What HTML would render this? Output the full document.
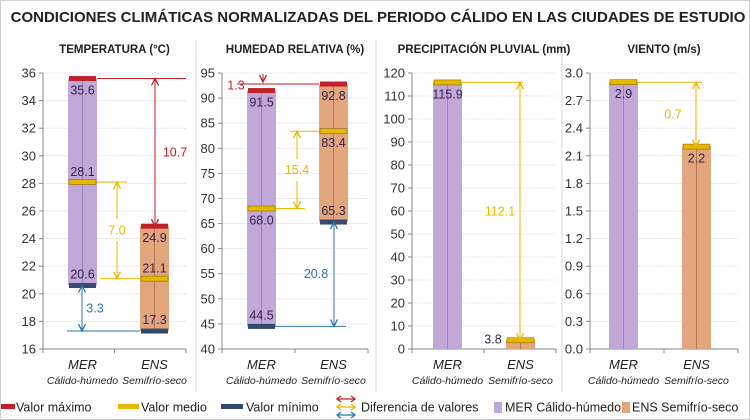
<!DOCTYPE html>
<html><head><meta charset="utf-8">
<style>
html,body{margin:0;padding:0;background:#fff;}
svg{display:block;font-family:"Liberation Sans",sans-serif;}
</style></head>
<body>
<svg id="chart" width="750" height="420" viewBox="0 0 750 420" xmlns="http://www.w3.org/2000/svg">
<rect x="0.5" y="0.5" width="749" height="419" fill="#fff" stroke="#cfcfcf"/>
<text x="378" y="22" text-anchor="middle" font-size="15" font-weight="bold" fill="#222">CONDICIONES CLIMÁTICAS NORMALIZADAS DEL PERIODO CÁLIDO EN LAS CIUDADES DE ESTUDIO</text>
<g id="panels"></g>
<g id="legend"></g>
</svg>
<script>
// ---- data ----
const panelTitles = ["TEMPERATURA (°C)", "HUMEDAD RELATIVA  (%)", "PRECIPITACIÓN PLUVIAL   (mm)", "VIENTO (m/s)"];
const categories = ["MER", "ENS"];
const categorySubs = ["Cálido-húmedo", "Semifrío-seco"];
const tempMax = [35.6, 24.9];
const tempMean = [28.1, 21.1];
const tempMin = [20.6, 17.3];
const humMax = [91.5, 92.8];
const humMean = [68.0, 83.4];
const humMin = [44.5, 65.3];
const precipMean = [115.9, 3.8];
const windMean = [2.9, 2.2];
const tempTicks = [16, 18, 20, 22, 24, 26, 28, 30, 32, 34, 36];
const humTicks = [40, 45, 50, 55, 60, 65, 70, 75, 80, 85, 90, 95];
const precipTicks = [0, 10, 20, 30, 40, 50, 60, 70, 80, 90, 100, 110, 120];
const windTicks = ["0.0", "0.3", "0.6", "0.9", "1.2", "1.5", "1.8", "2.1", "2.4", "2.7", "3.0"];

const NS = "http://www.w3.org/2000/svg";
const root = document.getElementById("panels");
const RED = "#c0212b", YEL = "#e8b800", BLU = "#2f73b5", NAVY = "#34496b";
const PURPLE = "#c2a8d8", ORANGE = "#e3a57c";
const TOP = 73, BOT = 349;

function mk(tag, attrs, parent, text) {
  const e = document.createElementNS(NS, tag);
  for (const k in attrs) e.setAttribute(k, attrs[k]);
  if (text !== undefined) e.textContent = text;
  (parent || root).appendChild(e);
  return e;
}

const panels = [
  {ax: 43, right: 186, ticks: tempTicks, min: 16, max: 36, barL: [68, 140]},
  {ax: 222, right: 368, ticks: humTicks, min: 40, max: 95, barL: [247, 319]},
  {ax: 412, right: 556, ticks: precipTicks, min: 0, max: 120, barL: [433, 506]},
  {ax: 590, right: 738, ticks: windTicks, min: 0, max: 3, barL: [609, 682]}
];
const BW = 29;

function yOf(p, v) { return BOT - (v - p.min) / (p.max - p.min) * (BOT - TOP); }

[196, 376, 562].forEach(x => {
  const l = mk("line", {x1: x, y1: 40, x2: x, y2: 392, stroke: "#d9d9d9", "stroke-width": 1});
  
  
});

function drawAxes(i) {
  const p = panels[i];
  const g = mk("g", {});
  
  
  const cx = (p.ax + p.right) / 2;
  const t = mk("text", {x: cx, y: 53, "text-anchor": "middle", "font-size": 11.5, "font-weight": "bold", fill: "#222"}, g, panelTitles[i]);
  
  
  p.ticks.forEach(tk => {
    const v = parseFloat(tk);
    const y = yOf(p, v);
    if (v !== p.min) {
      const gl = mk("line", {x1: p.ax, y1: y, x2: p.right, y2: y, stroke: "#e4e4e4", "stroke-width": 1, "stroke-dasharray": "2,1"}, g);
      
      
    }
    mk("line", {x1: p.ax - 4, y1: y, x2: p.ax, y2: y, stroke: "#888"}, g);
    const tl = mk("text", {x: p.ax - 7, y: y + 4.5, "text-anchor": "end", "font-size": 13, fill: "#333"}, g, tk);
    
    
  });
  mk("line", {x1: p.ax, y1: TOP, x2: p.ax, y2: BOT, stroke: "#888"}, g);
  mk("line", {x1: p.ax, y1: BOT, x2: p.right, y2: BOT, stroke: "#888"}, g);
  const mid = (p.ax + p.right) / 2;
  [p.ax, mid, p.right].forEach(x => mk("line", {x1: x, y1: BOT, x2: x, y2: BOT + 4, stroke: "#888"}, g));
  [0, 1].forEach(k => {
    const x = p.barL[k] + BW / 2;
    const c = mk("text", {x: x, y: 369, "text-anchor": "middle", "font-size": 13, "font-style": "italic", fill: "#222"}, g, categories[k]);
    
    
    const s = mk("text", {x: x, y: 384, "text-anchor": "middle", "font-size": 10.5, "font-style": "italic", fill: "#222"}, g, categorySubs[k]);
    
    
  });
  return g;
}

function bar(g, p, k, top, bottom) {
  const yt = yOf(p, top), yb = yOf(p, bottom);
  const r = mk("rect", {x: p.barL[k], y: yt, width: BW, height: yb - yt, fill: k ? ORANGE : PURPLE}, g);
  
  
  mk("line", {x1: p.barL[k] + BW / 2, y1: yt, x2: p.barL[k] + BW / 2, y2: yb, stroke: k ? "#b07a58" : "#9a84b0", "stroke-width": 1}, g);
}
function marker(g, p, k, v, color, name) {
  const y = yOf(p, v);
  const r = mk("rect", {x: p.barL[k] + 1, y: y - 2.5, width: BW - 2, height: 5, fill: color, stroke: color === YEL ? "#8a6d00" : "none", "stroke-width": 0.6}, g);
  
  
}
function vlabel(g, p, k, v, dy, txt, anchorX) {
  const y = yOf(p, v);
  const t = mk("text", {x: anchorX !== undefined ? anchorX : p.barL[k] + BW / 2, y: y + dy, "text-anchor": "middle", "font-size": 12.5, fill: "#33234d"}, g, txt);
  
  
}
function hline(g, p, v, x1, x2, color) {
  const y = yOf(p, v);
  mk("line", {x1: x1, y1: y, x2: x2, y2: y, stroke: color, "stroke-width": 1}, g);
}
function arrowHead(g, x, y, dir, color) {
  const d = dir > 0 ? `M${x - 3.5},${y - 7} L${x},${y} L${x + 3.5},${y - 7}` : `M${x - 3.5},${y + 7} L${x},${y} L${x + 3.5},${y + 7}`;
  mk("path", {d: d, fill: "none", stroke: color, "stroke-width": 1.3}, g);
}
function darrow(g, p, x, v1, v2, color, name, both) {
  const y1 = yOf(p, v1), y2 = yOf(p, v2);
  const l = mk("line", {x1: x, y1: y1, x2: x, y2: y2, stroke: color, "stroke-width": 1}, g);
  
  
  arrowHead(g, x, y2, y2 > y1 ? 1 : -1, color);
  if (both) arrowHead(g, x, y1, y1 > y2 ? 1 : -1, color);
}
function diffLabel(g, x, y, txt, color) {
  const t = mk("text", {x: x, y: y, "text-anchor": "middle", "font-size": 12.5, fill: color}, g, txt);
  
  
}
function fmt(v) { return v.toFixed(1); }

(function () {
  const p = panels[0], g = drawAxes(0);
  bar(g, p, 0, tempMax[0], tempMin[0]);
  bar(g, p, 1, tempMax[1], tempMin[1]);
  hline(g, p, tempMax[0], 97, 186, RED);
  hline(g, p, tempMean[0], 97, 127, YEL);
  hline(g, p, tempMean[1], 100, 140, YEL);
  hline(g, p, tempMin[1], 67, 140, BLU);
  [0, 1].forEach(k => {
    marker(g, p, k, tempMax[k], RED, 'max-marker');
    marker(g, p, k, tempMean[k], YEL, 'mean-marker');
    marker(g, p, k, tempMin[k], NAVY, 'min-marker');
    vlabel(g, p, k, tempMax[k], 16, fmt(tempMax[k]));
    vlabel(g, p, k, tempMean[k], -6, fmt(tempMean[k]));
    vlabel(g, p, k, tempMin[k], -7, fmt(tempMin[k]));
  });
  const dMax = tempMax[0] - tempMax[1], dMean = tempMean[0] - tempMean[1], dMin = tempMin[0] - tempMin[1];
  darrow(g, p, 155, tempMax[0], tempMax[1], RED, 'max-difference-arrow', true);
  diffLabel(g, 175, yOf(p, (tempMax[0] + tempMax[1]) / 2) + 4, fmt(dMax), RED);
  const ym = yOf(p, (tempMean[0] + tempMean[1]) / 2);
  darrow(g, p, 117, (tempMean[0] + tempMean[1]) / 2 + 0.8, tempMean[0], YEL, 'mean-difference-arrow-up');
  darrow(g, p, 117, (tempMean[0] + tempMean[1]) / 2 - 0.8, tempMean[1], YEL, 'mean-difference-arrow-down');
  diffLabel(g, 117, ym + 4, fmt(dMean), YEL);
  darrow(g, p, 82, tempMin[1], tempMin[0], BLU, 'min-difference-arrow', true);
  diffLabel(g, 95, yOf(p, (tempMin[0] + tempMin[1]) / 2) + 4, fmt(dMin), BLU);
})();

(function () {
  const p = panels[1], g = drawAxes(1);
  bar(g, p, 0, humMax[0], humMin[0]);
  bar(g, p, 1, humMax[1], humMin[1]);
  hline(g, p, humMax[1], 237, 319, RED);
  hline(g, p, humMean[1], 290, 319, YEL);
  hline(g, p, humMean[0], 275, 305, YEL);
  hline(g, p, humMin[0], 275, 346, BLU);
  [0, 1].forEach(k => {
    marker(g, p, k, humMax[k], RED, 'max-marker');
    marker(g, p, k, humMean[k], YEL, 'mean-marker');
    marker(g, p, k, humMin[k], NAVY, 'min-marker');
    vlabel(g, p, k, humMax[k], 16, fmt(humMax[k]));
    vlabel(g, p, k, humMean[k], 16, fmt(humMean[k]));
    vlabel(g, p, k, humMin[k], -7, fmt(humMin[k]));
  });
  const yMx = yOf(p, humMax[1]);
  mk("line", {x1: 263, y1: yMx - 10, x2: 263, y2: yMx - 2, stroke: RED}, g);
  arrowHead(g, 263, yMx - 2, 1, RED);
  diffLabel(g, 236, yOf(p, humMax[0]) - 1, fmt(humMax[1] - humMax[0]), RED);
  const mm = (humMean[0] + humMean[1]) / 2;
  darrow(g, p, 297, mm + 2.2, humMean[1], YEL, 'mean-difference-arrow-up');
  darrow(g, p, 297, mm - 2.2, humMean[0], YEL, 'mean-difference-arrow-down');
  diffLabel(g, 297, yOf(p, mm) + 4, fmt(humMean[1] - humMean[0]), YEL);
  darrow(g, p, 334, humMin[0], humMin[1], BLU, 'min-difference-arrow', true);
  diffLabel(g, 316, yOf(p, (humMin[0] + humMin[1]) / 2) + 4, fmt(humMin[1] - humMin[0]), BLU);
})();

(function () {
  const p = panels[2], g = drawAxes(2);
  bar(g, p, 0, precipMean[0], p.min);
  bar(g, p, 1, precipMean[1], p.min);
  hline(g, p, precipMean[0], 462, 523, YEL);
  marker(g, p, 0, precipMean[0], YEL, 'mean-marker');
  marker(g, p, 1, precipMean[1], YEL, 'mean-marker');
  vlabel(g, p, 0, precipMean[0], 16, fmt(precipMean[0]));
  vlabel(g, p, 1, precipMean[1], 3, fmt(precipMean[1]), 493);
  darrow(g, p, 520, precipMean[1], precipMean[0], YEL, 'mean-difference-arrow', true);
  diffLabel(g, 500, yOf(p, (precipMean[0] + precipMean[1]) / 2) + 4, fmt(precipMean[0] - precipMean[1]), YEL);
})();

(function () {
  const p = panels[3], g = drawAxes(3);
  bar(g, p, 0, windMean[0], p.min);
  bar(g, p, 1, windMean[1], p.min);
  hline(g, p, windMean[0], 637, 702, YEL);
  marker(g, p, 0, windMean[0], YEL, 'mean-marker');
  marker(g, p, 1, windMean[1], YEL, 'mean-marker');
  vlabel(g, p, 0, windMean[0], 16, fmt(windMean[0]));
  vlabel(g, p, 1, windMean[1], 16, fmt(windMean[1]));
  darrow(g, p, 696, windMean[1], windMean[0], YEL, 'mean-difference-arrow', true);
  diffLabel(g, 673, yOf(p, (windMean[0] + windMean[1]) / 2) + 4, fmt(windMean[0] - windMean[1]), YEL);
})();

// Legend
(function () {
  const lg = document.getElementById("legend");
  const y = 407;
  function sw(x, w, tx, color, label, name) {
    const r = mk("rect", {x: x, y: y - 3, width: w, height: 5, fill: color}, lg);
    
    
    const t = mk("text", {x: tx, y: y + 4.5, "font-size": 12.5, fill: "#222"}, lg, label);
    
    
  }
  sw(1, 14, 16, RED, "Valor máximo", 'legend-max');
  sw(118, 21, 141, YEL, "Valor medio", 'legend-mean');
  sw(221, 22, 246, NAVY, "Valor mínimo", 'legend-min');
  const ax = 346;
  [[y - 8, RED], [y, YEL], [y + 8, BLU]].forEach(([yy, c]) => {
    mk("line", {x1: ax - 9, y1: yy, x2: ax + 9, y2: yy, stroke: c, "stroke-width": 1.3}, lg);
    mk("path", {d: `M${ax - 5},${yy - 3} L${ax - 9},${yy} L${ax - 5},${yy + 3} M${ax + 5},${yy - 3} L${ax + 9},${yy} L${ax + 5},${yy + 3}`, fill: "none", stroke: c, "stroke-width": 1.3}, lg);
  });
  const dt = mk("text", {x: 361, y: y + 4.5, "font-size": 12.5, fill: "#222"}, lg, "Diferencia de valores");
  
  
  const r1 = mk("rect", {x: 494, y: y - 5, width: 8, height: 11, fill: PURPLE}, lg);
  
  
  mk("text", {x: 505, y: y + 4.5, "font-size": 12.5, fill: "#222"}, lg, "MER Cálido-húmedo");
  const r2 = mk("rect", {x: 622, y: y - 5, width: 8, height: 11, fill: ORANGE}, lg);
  
  
  mk("text", {x: 632, y: y + 4.5, "font-size": 12.5, fill: "#222"}, lg, "ENS Semifrío-seco");
})();
</script>
</body></html>
